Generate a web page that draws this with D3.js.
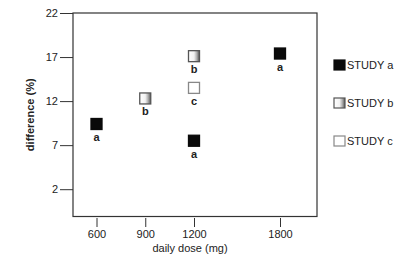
<!DOCTYPE html>
<html>
<head>
<meta charset="utf-8">
<script src="https://cdn.jsdelivr.net/npm/d3@7"></script>
<style>
  body { margin: 0; background: #fff; }
  svg { display: block; font-family: "Liberation Sans", Arial, sans-serif; }
  .axis text { fill: #222; font-size: 11px; }
  .axis line { stroke: #333; }
</style>
</head>
<body>
<div id="chart"></div>
<script>
// values
const xTicks = [600, 900, 1200, 1800];
const yTicks = [2, 7, 12, 17, 22];
const studyNames = ["STUDY a", "STUDY b", "STUDY c"];
const doseA = [600, 1200, 1800];
const diffA = [9.4, 7.5, 17.4];
const doseB = [900, 1200];
const diffB = [12.3, 17.1];
const doseC = [1200];
const diffC = [13.5];

const width = 400, height = 258;
const box = { left: 73, top: 13, right: 317, bottom: 216.5 };

const svg = d3.select("#chart").append("svg")
  .attr("width", width)
  .attr("height", height);

const defs = svg.append("defs");
const grad = defs.append("linearGradient").attr("id", "shadeB")
  .attr("x1", "0%").attr("x2", "100%").attr("y1", "0%").attr("y2", "0%");
grad.append("stop").attr("offset", "0%").attr("stop-color", "#fff");
grad.append("stop").attr("offset", "50%").attr("stop-color", "#f2f2f2");
grad.append("stop").attr("offset", "75%").attr("stop-color", "#b0b0b0");
grad.append("stop").attr("offset", "100%").attr("stop-color", "#555");

// the printed dose axis is not evenly spaced, so use a piecewise scale
const xScale = d3.scaleLinear().domain([600, 1200, 1800]).range([96.5, 194, 280]);
const yScale = d3.scaleLinear().domain([-1.1, 22]).range([box.bottom, box.top]);

svg.append("rect")
  .attr("x", box.left).attr("y", box.top)
  .attr("width", box.right - box.left).attr("height", box.bottom - box.top)
  .attr("fill", "none").attr("stroke", "#333").attr("stroke-width", 1.2);

svg.append("g")
  .attr("class", "axis axis-y")
  .attr("transform", `translate(${box.left},0)`)
  .call(d3.axisLeft(yScale).tickValues(yTicks).tickSize(13).tickPadding(2))
  .call(g => g.select(".domain").remove());

svg.append("g")
  .attr("class", "axis axis-x")
  .attr("transform", `translate(0,${box.bottom + 1.5})`)
  .call(d3.axisBottom(xScale).tickValues(xTicks).tickFormat(d3.format("d")).tickSize(9).tickPadding(3))
  .call(g => g.select(".domain").remove());

svg.append("text")
  .attr("x", 190).attr("y", 252)
  .attr("text-anchor", "middle")
  .attr("font-size", 11).attr("fill", "#222")
  .text("daily dose (mg)");

svg.append("text")
  .attr("transform", `translate(34,${(box.top + box.bottom) / 2}) rotate(-90)`)
  .attr("text-anchor", "middle")
  .attr("font-size", 11).attr("font-weight", "bold").attr("fill", "#222")
  .text("difference (%)");

const studies = [
  { key: "a", dose: doseA, diff: diffA, fill: "#0a0a0a", stroke: "#0a0a0a" },
  { key: "b", dose: doseB, diff: diffB, fill: "url(#shadeB)", stroke: "#555" },
  { key: "c", dose: doseC, diff: diffC, fill: "#fff", stroke: "#888" }
];

const size = 11;
studies.forEach(s => {
  const pts = s.dose.map((d, i) => ({ dose: d, diff: s.diff[i] }));
  const g = svg.append("g").attr("class", "study study-" + s.key);
  g.selectAll("rect")
    .data(pts)
    .enter().append("rect")
    .attr("x", d => xScale(d.dose) - size / 2)
    .attr("y", d => yScale(d.diff) - size / 2)
    .attr("width", size).attr("height", size)
    .attr("fill", s.fill).attr("stroke", s.stroke).attr("stroke-width", 1.3);
  g.selectAll("text")
    .data(pts)
    .enter().append("text")
    .attr("x", d => xScale(d.dose))
    .attr("y", d => yScale(d.diff) + 17)
    .attr("text-anchor", "middle")
    .attr("font-size", 11).attr("font-weight", "bold").attr("fill", "#222")
    .text(s.key);
});

// legend
const legend = svg.append("g").attr("class", "legend")
  .selectAll("g")
  .data(studies)
  .enter().append("g")
  .attr("transform", (d, i) => `translate(334,${65 + i * 38})`);

legend.append("rect")
  .attr("x", 0).attr("y", -5)
  .attr("width", 11).attr("height", 10)
  .attr("fill", d => d.fill).attr("stroke", d => d.stroke).attr("stroke-width", 1.2);

legend.append("text")
  .attr("x", 13).attr("y", 4)
  .attr("font-size", 11).attr("fill", "#222")
  .text((d, i) => studyNames[i]);
</script>
</body>
</html>
